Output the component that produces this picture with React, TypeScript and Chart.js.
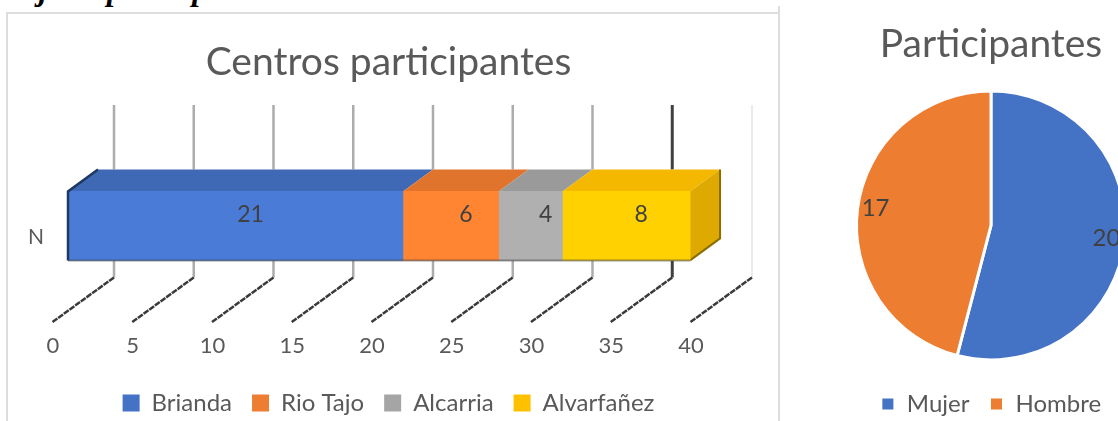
import React, { useEffect, useRef } from "react";
import { Chart, registerables } from "chart.js";

Chart.register(...registerables);

const barCategories = ["N"];
const centros = ["Brianda", "Rio Tajo", "Alcarria", "Alvarfañez"];
const centrosValues = [21, 6, 4, 8];
const centrosLegend = ["#4472C4", "#ED7D31", "#A5A5A5", "#FFC000"];
const centrosFront = ["#4A7BD6", "#FF8533", "#B0B0B0", "#FFD100"];
const centrosTop = ["#3F68B5", "#E0742C", "#9A9A9A", "#F4B800"];
const sideColor = "#DEA900";
const axisTicks = [0, 5, 10, 15, 20, 25, 30, 35, 40];

const sexLabels = ["Mujer", "Hombre"];
const sexValues = [20, 17];
const sexColors = ["#4472C4", "#ED7D31"];

const FONT = "Lato";
const DX = 30, DY = -22;
const WALL = 46;

const bar3d = {
  id: "bar3d",
  beforeDatasetsDraw(chart: any) {
    const { ctx, scales } = chart;
    const x = scales.x;
    ctx.save();
    const yFront = chart.getDatasetMeta(0).data[0];
    const fTop = yFront.y - yFront.height / 2;
    const fBottom = yFront.y + yFront.height / 2;
    const backBottom = fBottom + 17;
    axisTicks.forEach((v) => {
      const gx = x.getPixelForValue(v) + WALL;
      ctx.beginPath();
      ctx.lineWidth = v === 35 ? 3 : v === 40 ? 1.5 : 2.5;
      ctx.strokeStyle = v === 35 ? "#404040" : v === 40 ? "#E4E4E4" : "#ACACAC";
      ctx.moveTo(gx, 105);
      if (v === 40) {
        ctx.lineTo(gx, backBottom);
      } else {
        ctx.lineTo(gx, fTop + DY);
        ctx.moveTo(gx, fBottom);
        ctx.lineTo(gx, backBottom);
      }
      ctx.stroke();
      ctx.beginPath();
      ctx.lineWidth = 2.5;
      ctx.strokeStyle = "#3A3A3A";
      ctx.setLineDash([6, 1]);
      ctx.moveTo(gx, backBottom);
      ctx.lineTo(gx - 62, backBottom + 45);
      ctx.stroke();
      ctx.setLineDash([]);
    });
    let cum = 0;
    centrosValues.forEach((v, i) => {
      const a = x.getPixelForValue(cum);
      const b = x.getPixelForValue(cum + v);
      ctx.fillStyle = centrosTop[i];
      ctx.beginPath();
      ctx.moveTo(a, fTop);
      ctx.lineTo(a + DX, fTop + DY);
      ctx.lineTo(b + DX, fTop + DY);
      ctx.lineTo(b, fTop);
      ctx.closePath();
      ctx.fill();
      cum += v;
    });
    const r = x.getPixelForValue(cum);
    ctx.fillStyle = sideColor;
    ctx.beginPath();
    ctx.moveTo(r, fTop);
    ctx.lineTo(r + DX, fTop + DY);
    ctx.lineTo(r + DX, fBottom + DY);
    ctx.lineTo(r, fBottom);
    ctx.closePath();
    ctx.fill();
    ctx.strokeStyle = "#8A6D00";
    ctx.lineWidth = 2;
    ctx.beginPath();
    ctx.moveTo(r + DX, fTop + DY);
    ctx.lineTo(r + DX, fBottom + DY);
    ctx.lineTo(r, fBottom);
    ctx.stroke();
    ctx.restore();
  },
  afterDatasetsDraw(chart: any) {
    const { ctx, scales } = chart;
    const x = scales.x;
    ctx.save();
    const first = chart.getDatasetMeta(0).data[0];
    const fTop = first.y - first.height / 2;
    const fBottom = first.y + first.height / 2;
    ctx.strokeStyle = "rgba(60,60,60,0.5)";
    ctx.lineWidth = 2;
    ctx.beginPath();
    ctx.moveTo(x.getPixelForValue(0), fBottom);
    ctx.lineTo(x.getPixelForValue(39), fBottom);
    ctx.stroke();
    ctx.strokeStyle = "#1F3864";
    ctx.lineWidth = 2.5;
    ctx.beginPath();
    ctx.moveTo(x.getPixelForValue(0), fBottom);
    ctx.lineTo(x.getPixelForValue(0), fTop);
    ctx.lineTo(x.getPixelForValue(0) + DX, fTop + DY);
    ctx.stroke();
    ctx.fillStyle = "#404040";
    ctx.font = `23px ${FONT}`;
    ctx.textAlign = "center";
    ctx.textBaseline = "middle";
    let cum = 0;
    centrosValues.forEach((v) => {
      const mid = x.getPixelForValue(cum + v / 2);
      ctx.fillText(String(v), mid + DX / 2, first.y + DY / 2);
      cum += v;
    });
    ctx.restore();
  },
};

const pieLabels = {
  id: "pieLabels",
  afterDatasetsDraw(chart: any) {
    const { ctx } = chart;
    ctx.save();
    ctx.fillStyle = "#404040";
    ctx.font = `24px ${FONT}`;
    ctx.textAlign = "center";
    ctx.textBaseline = "middle";
    chart.getDatasetMeta(0).data.forEach((arc: any, i: number) => {
      const ang = (arc.startAngle + arc.endAngle) / 2;
      const r = arc.outerRadius * 0.865;
      ctx.fillText(String(sexValues[i]), arc.x + Math.cos(ang) * r, arc.y + Math.sin(ang) * r - 2);
    });
    ctx.restore();
  },
};

export default function App() {
  const barRef = useRef<HTMLCanvasElement>(null);
  const pieRef = useRef<HTMLCanvasElement>(null);

  useEffect(() => {
    document.body.style.margin = "0";
    const barChart = new Chart(barRef.current!, {
      type: "bar",
      data: {
        labels: barCategories,
        datasets: centros.map((name, i) => ({
          label: name,
          data: [centrosValues[i]],
          backgroundColor: centrosFront[i],
          barThickness: 69,
          stack: "a",
        })),
      },
      plugins: [bar3d],
      options: {
        animation: false,
        responsive: false,
        indexAxis: "y",
        scales: {
          x: {
            stacked: true,
            min: 0,
            max: 40,
            grid: { display: false, drawTicks: false, tickLength: 0 },
            border: { display: false },
            ticks: { stepSize: 5, labelOffset: -15, padding: 12, maxRotation: 0, color: "#595959", font: { family: FONT, size: 22 } },
            afterFit: (s: any) => { s.height = 50; },
          },
          y: {
            stacked: true,
            grid: { display: false, drawTicks: false, tickLength: 0 },
            border: { display: false },
            ticks: { padding: 24, labelOffset: 11, color: "#595959", font: { family: FONT, size: 21 } },
            afterFit: (s: any) => { s.width = 68; },
          },
          rightGap: {
            type: "linear",
            axis: "y",
            position: "right",
            grid: { display: false, drawTicks: false },
            border: { display: false },
            ticks: { display: false },
            afterFit: (s: any) => { s.width = 71; },
          },
        },
        plugins: {
          title: {
            display: true,
            text: "Centros participantes",
            color: "#595959",
            font: { family: FONT, size: 39, weight: "normal" },
            padding: { top: 39, bottom: 45 },
          },
          legend: {
            position: "bottom",
            labels: {
              color: "#595959",
              boxWidth: 17,
              boxHeight: 17,
              padding: 20,
              font: { family: FONT, size: 24 },
              generateLabels: (chart: any) =>
                Chart.defaults.plugins.legend.labels.generateLabels(chart).map((item: any, i: number) => ({
                  ...item,
                  fillStyle: centrosLegend[i],
                  strokeStyle: centrosLegend[i],
                })),
            },
          },
          tooltip: { enabled: false },
        },
      },
    } as any);

    const pieChart = new Chart(pieRef.current!, {
      type: "pie",
      data: {
        labels: sexLabels,
        datasets: [{ data: sexValues, backgroundColor: sexColors, borderColor: "#fff", borderWidth: 3 }],
      },
      plugins: [pieLabels],
      options: {
        animation: false,
        responsive: false,
        radius: 134.5,
        plugins: {
          title: {
            display: true,
            text: "Participantes",
            color: "#595959",
            font: { family: FONT, size: 39, weight: "normal" },
            padding: { top: 21, bottom: 11 },
          },
          legend: {
            position: "bottom",
            labels: { color: "#595959", boxWidth: 14, boxHeight: 14, padding: 20, font: { family: FONT, size: 24 } },
          },
          tooltip: { enabled: false },
        },
      },
    } as any);

    return () => {
      barChart.destroy();
      pieChart.destroy();
    };
  }, []);

  return (
    <div style={{ position: "relative", width: 1118, height: 421, overflow: "hidden", background: "#fff" }}>
      <div style={{ position: "absolute", left: 3, top: -29, whiteSpace: "nowrap", fontFamily: "'Liberation Serif', serif", fontStyle: "italic", fontWeight: "bold", fontSize: 32, color: "#000" }}>Sujetos participantes:</div>
      <div style={{ position: "absolute", left: 6, top: 12, width: 772, height: 420, borderLeft: "2px solid #DDD", borderTop: "2px solid #DDD", boxSizing: "border-box" }} />
      <div style={{ position: "absolute", left: 778, top: 6, width: 2, height: 415, background: "#DDD" }} />
      <canvas ref={barRef} width={777} height={425} style={{ position: "absolute", left: 0, top: 0 }} />
      <canvas ref={pieRef} width={422} height={426} style={{ position: "absolute", left: 780, top: 0 }} />
    </div>
  );
}
